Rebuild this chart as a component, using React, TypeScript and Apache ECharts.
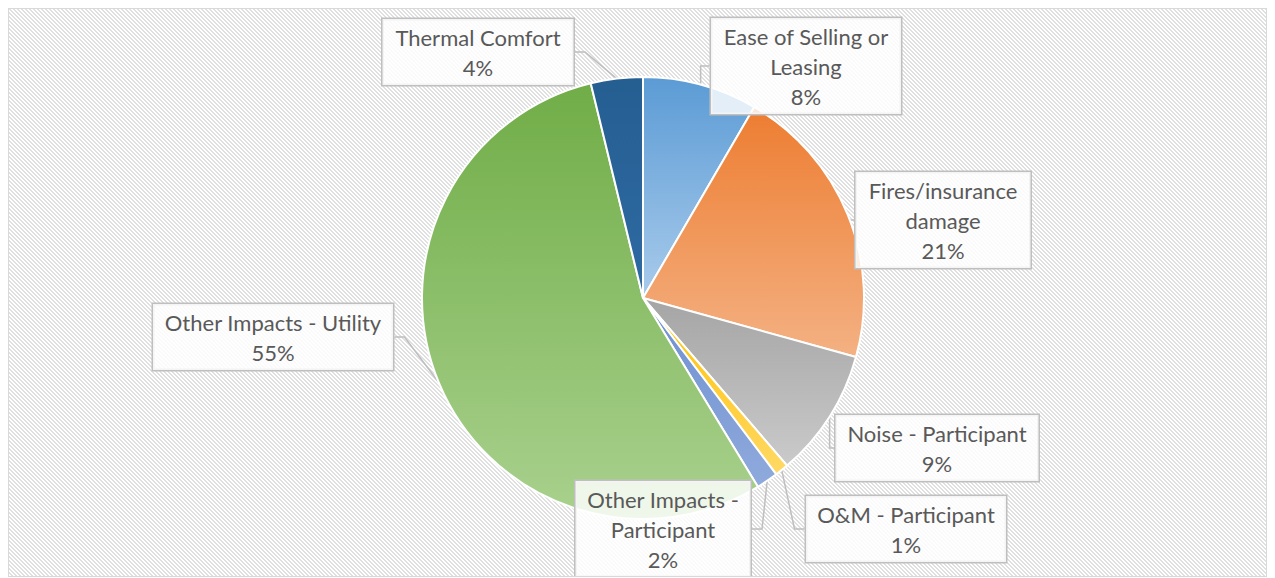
import React, { useEffect, useRef } from "react";
import * as echarts from "echarts";

const categories = [
  "Ease of Selling or Leasing",
  "Fires/insurance damage",
  "Noise - Participant",
  "O&M - Participant",
  "Other Impacts - Participant",
  "Other Impacts - Utility",
  "Thermal Comfort",
];
const wrappedLabels = [
  "Ease of Selling or\nLeasing",
  "Fires/insurance\ndamage",
  "Noise - Participant",
  "O&M - Participant",
  "Other Impacts -\nParticipant",
  "Other Impacts - Utility",
  "Thermal Comfort",
];
const values = [8.4, 20.9, 9.4, 1.0, 1.6, 54.9, 3.8];
const colorsTop = ["#5B9BD5", "#ED7D31", "#A5A5A5", "#FFC000", "#6E8FD0", "#70AD47", "#255E91"];
const colorsBottom = ["#A9CBEB", "#F4B183", "#CACACA", "#FFD966", "#8FAADC", "#A9D18E", "#2E6AA3"];

// label box centers (container coords) and widths
const labelBoxes = [
  { x: 797, y: 57, w: 190 },
  { x: 934, y: 211, w: 175 },
  { x: 928, y: 439, w: 203 },
  { x: 897, y: 520, w: 200 },
  { x: 654, y: 520, w: 175 },
  { x: 264, y: 328, w: 240 },
  { x: 469, y: 43, w: 191 },
];

const hatch =
  "url(\"data:image/svg+xml;utf8,<svg xmlns='http://www.w3.org/2000/svg' width='4' height='4' shape-rendering='crispEdges'><rect width='4' height='4' fill='%23ffffff'/><rect x='0' y='0' width='2' height='1' fill='%23e0e0e0'/><rect x='1' y='1' width='2' height='1' fill='%23e0e0e0'/><rect x='2' y='2' width='2' height='1' fill='%23e0e0e0'/><rect x='3' y='3' width='1' height='1' fill='%23e0e0e0'/><rect x='0' y='3' width='1' height='1' fill='%23e0e0e0'/></svg>\")";

export default function App() {
  const ref = useRef<HTMLDivElement>(null);
  useEffect(() => {
    if (!ref.current) return;
    const chart = echarts.init(ref.current, undefined, { renderer: "svg" });
    const data = categories.map((name, i) => ({
      name,
      value: values[i],
      itemStyle: {
        color: new echarts.graphic.LinearGradient(0, 0, 0, 1, [
          { offset: 0, color: colorsTop[i] },
          { offset: 1, color: colorsBottom[i] },
        ]),
      },
      label: { width: labelBoxes[i].w },
    }));
    chart.setOption({
      animation: false,
      backgroundColor: "transparent",
      series: [
        {
          type: "pie",
          center: [634, 289],
          radius: 221,
          startAngle: 90,
          clockwise: true,
          data,
          itemStyle: { borderColor: "#ffffff", borderWidth: 2 },
          label: {
            show: true,
            position: "outside",
            formatter: (p: any) => `${wrappedLabels[p.dataIndex]}\n${Math.round(p.percent)}%`,
            fontFamily: "Lato, 'Liberation Sans', sans-serif",
            fontSize: 22,
            lineHeight: 30,
            color: "#595959",
            align: "center",
            padding: [3, 0, 3, 0],
            backgroundColor: "rgba(255,255,255,0.82)",
            borderColor: "#BFBFBF",
            borderWidth: 1.5,
          },
          labelLine: {
            show: true,
            length: 10,
            length2: 10,
            lineStyle: { color: "#BFBFBF", width: 1.5 },
          },
          labelLayout: (params: any) => {
            const b = labelBoxes[params.dataIndex];
            return { x: b.x, y: b.y, align: "center", verticalAlign: "middle" };
          },
          emphasis: { disabled: true },
        },
      ],
    });
    return () => chart.dispose();
  }, []);
  return (
    <div
      ref={ref}
      style={{
        width: 1259,
        height: 569,
        border: "1px solid #D9D9D9",
        boxSizing: "border-box",
        backgroundColor: "#ffffff",
        backgroundImage: hatch,
        backgroundRepeat: "repeat",
      }}
    />
  );
}
